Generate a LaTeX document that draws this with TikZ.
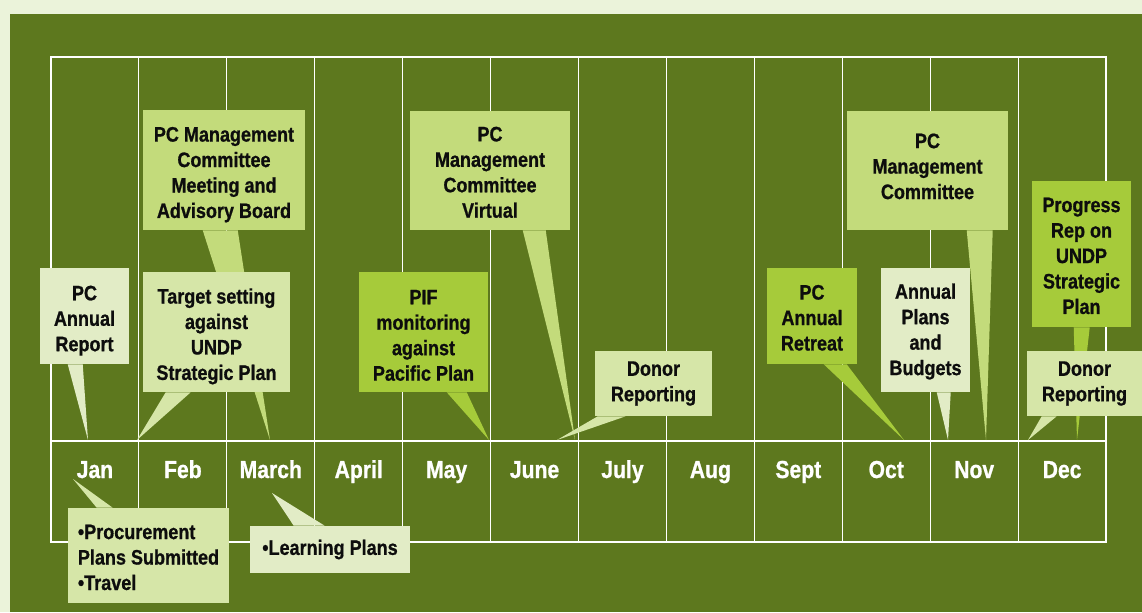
\documentclass[tikz,border=0pt]{standalone}
\usepackage{fontspec}
\setmainfont[FakeStretch=0.86, BoldFeatures={FakeBold=0.8}]{Liberation Sans}
\usetikzlibrary{calc}
\definecolor{bgpale}{HTML}{EBF3DA}
\definecolor{bgdark}{HTML}{5D781E}
\definecolor{fbright}{HTML}{A6CB3A}
\definecolor{fmid}{HTML}{C3DB7B}
\definecolor{fpale}{HTML}{D6E6A8}
\definecolor{flight}{HTML}{E2ECC6}
\newcommand\sk[1][17pt]{\rule{0pt}{#1}}
\tikzset{
  sz/.style 2 args={minimum width=#1*0.025cm, minimum height=#2*0.025cm},
  evt/.style={inner sep=2pt, align=center, text=black!95,
    font=\bfseries\fontsize{14.9}{18.1}\selectfont},
  mon/.style={anchor=base, text=white, font=\bfseries\fontsize{17.5}{20}\selectfont},
  gridline/.style={white, line width=0.8pt}
}

\begin{document}
\begin{tikzpicture}[x=0.025cm,y=-0.025cm]
  \useasboundingbox (0,0) rectangle (1142,612);
  \fill[bgpale] (0,0) rectangle (1142,612);
  \fill[bgdark] (10,14) rectangle (1142,612);
  % month grid
  \draw[gridline] (51,57) rectangle (1106,542);
  \draw[gridline] (51,441) -- (1106,441);
  \foreach \i in {1,...,11}
    \draw[gridline] ({51+\i*87.92},57) -- ({51+\i*87.92},542);
  \foreach \m [count=\i] in {Jan,Feb,March,April,May,June,July,Aug,Sept,Oct,Nov,Dec}
    \node[mon] (m\i) at ({51+(\i-0.5)*87.92},478) {\m};

  % pointer tips
  \coordinate (tip-rep) at (88,440);
  \coordinate (tip-adv) at (270,440);
  \coordinate (tip-tgt) at (137,440);
  \coordinate (tip-pif) at (489,440);
  \coordinate (tip-virt) at (575,440);
  \coordinate (tip-donj) at (557,440);
  \coordinate (tip-ret) at (904,440);
  \coordinate (tip-novc) at (986,440);
  \coordinate (tip-apb) at (948,440);
  \coordinate (tip-prog) at (1077,440);
  \coordinate (tip-dond) at (1028,440);
  \coordinate (tip-proc) at (73,479);
  \coordinate (tip-lrn) at (272,493);

  % back boxes
  \node[evt,sz={162}{120},fill=fmid] (adv) at (224,170)
    {\sk PC Management\\Committee\\Meeting and\\Advisory Board};
  \node[evt,sz={99}{146},fill=fbright] (prog) at (1081.5,254)
    {\sk[13pt]Progress\\Rep on\\UNDP\\Strategic\\Plan};
  \foreach \b/\c/\l/\r in {adv/fmid/60/95,prog/fbright/42/58}
    \fill[\c] ($(\b.south west)+(\l,0)$) -- (tip-\b) -- ($(\b.south west)+(\r,0)$) -- cycle;

  % front boxes
  \node[evt,sz={89}{96},fill=flight] (rep) at (84.5,316) {\sk PC\\Annual\\Report};
  \node[evt,sz={147}{120},fill=fpale] (tgt) at (216.5,332)
    {\sk Target setting\\against\\UNDP\\Strategic Plan};
  \node[evt,sz={129}{120},fill=fbright] (pif) at (423.5,332)
    {\sk[15pt]PIF\\monitoring\\against\\Pacific Plan};
  \node[evt,sz={160}{119},fill=fmid] (virt) at (490,170.5)
    {\sk[13pt]PC\\Management\\Committee\\Virtual};
  \node[evt,sz={117}{65},fill=fpale] (donj) at (653.5,383.5) {Donor\\Reporting};
  \node[evt,sz={90}{96},fill=fbright] (ret) at (812,316) {\sk[13pt]PC\\Annual\\Retreat};
  \node[evt,sz={161}{119},fill=fmid,text depth=6pt] (novc) at (927.5,170.5)
    {PC\\Management\\Committee};
  \node[evt,sz={89}{124},fill=flight] (apb) at (925.5,330)
    {\sk[13pt]Annual\\Plans\\and\\Budgets};
  \node[evt,sz={115}{65},fill=fpale] (dond) at (1084.5,383.5) {Donor\\Reporting};
  \foreach \b/\c/\l/\r in {rep/flight/28/43,tgt/fpale/23/48,pif/fbright/88/108,
      virt/fmid/113/136,donj/fpale/3/31,ret/fbright/57/80,novc/fmid/120/146,
      apb/flight/56/70,dond/fpale/15/30}
    \fill[\c] ($(\b.south west)+(\l,0)$) -- (tip-\b) -- ($(\b.south west)+(\r,0)$) -- cycle;

  % boxes below the months
  \node[evt,sz={161}{95},fill=fpale,align=left] (proc) at (148.5,555.5)
    {\sk[13pt]•Procurement\\Plans Submitted\\•Travel};
  \node[evt,sz={160}{47},fill=flight,align=left] (lrn) at (330,549.5) {•Learning Plans};
  \foreach \b/\c/\l/\r in {proc/fpale/29/45,lrn/flight/44/75}
    \fill[\c] ($(\b.north west)+(\l,0)$) -- (tip-\b) -- ($(\b.north west)+(\r,0)$) -- cycle;
\end{tikzpicture}
\end{document}
